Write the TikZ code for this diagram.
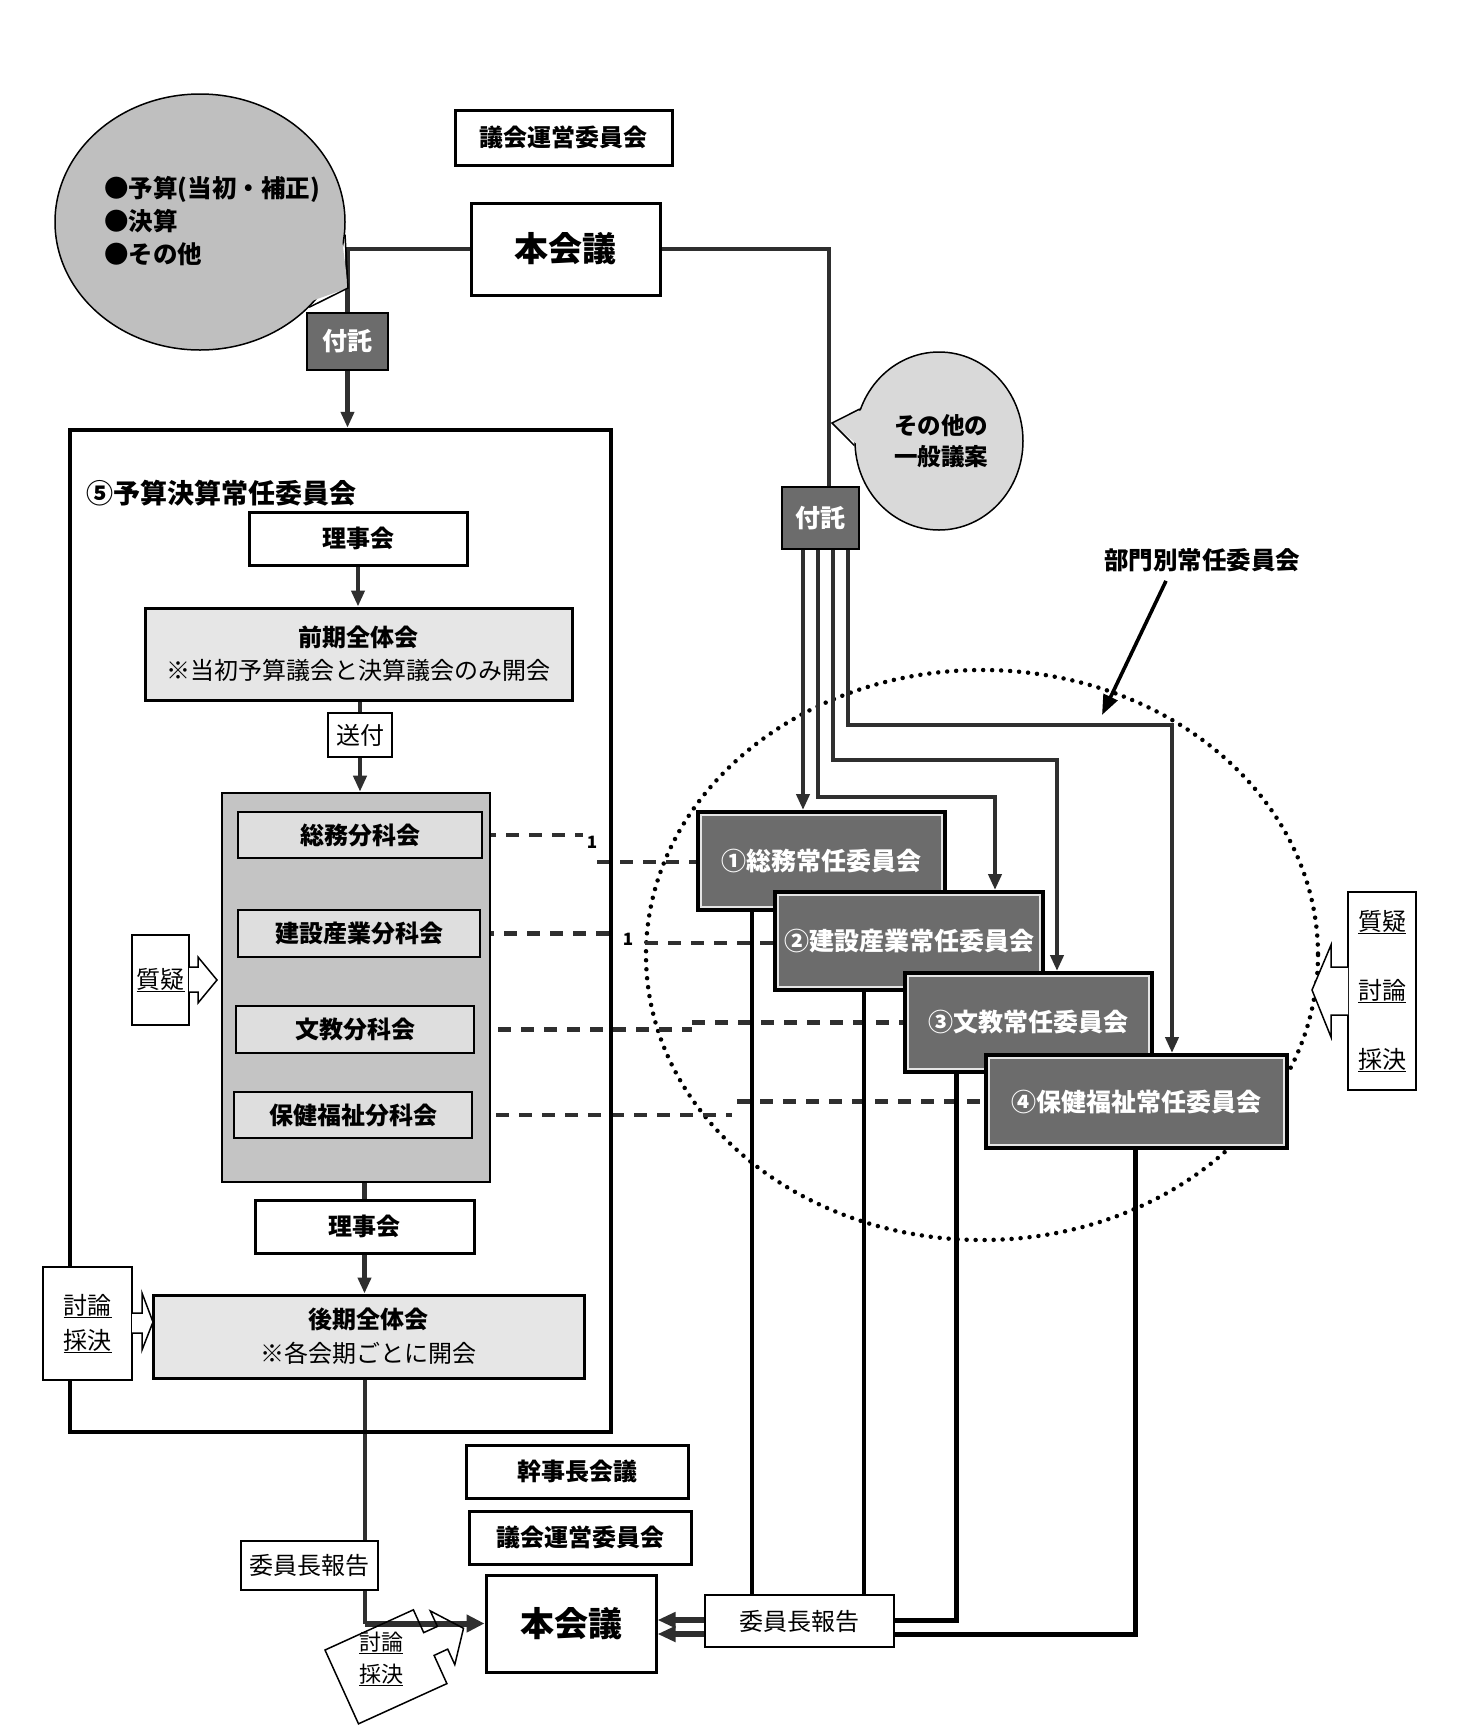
\documentclass[tikz,border=0pt]{standalone}
\usepackage{fontspec}
\setmainfont{Noto Sans CJK JP}
\usetikzlibrary{arrows.meta,shapes.geometric,calc}
\definecolor{ln}{HTML}{2F2F2F}
\definecolor{dk}{HTML}{6C6C6C}
\definecolor{pn}{HTML}{C4C4C4}
\definecolor{lt}{HTML}{DEDEDE}
\definecolor{ltt}{HTML}{E6E6E6}
\definecolor{bub}{HTML}{BFBFBF}
\definecolor{bubb}{HTML}{D9D9D9}
\pgfdeclarelayer{back}
\pgfsetlayers{back,main}
\newcommand{\bx}[7]{\node[#6, minimum width={(#4)-(#2)}, minimum height={(#5)-(#3)}] (#1) at ({((#2)+(#4))/2},{((#3)+(#5))/2}) {#7};}
\newcommand{\inrim}[1]{\draw[draw=white!80!gray,line width=1.2pt] ([shift={(5pt,-5pt)}]#1.north west) rectangle ([shift={(-5pt,5pt)}]#1.south east);}
\begin{document}
\begin{tikzpicture}[x=1pt,y=-1pt,
  bxs/.style={draw=black,line width=3pt,fill=white,inner sep=0pt,align=center,font=\fontsize{24}{33}\selectfont\bfseries},
  lbx/.style={bxs,fill=ltt},
  pnlbx/.style={draw=black,line width=2.6pt,fill=pn,inner sep=0pt},
  sbx/.style={bxs,fill=lt,line width=2pt},
  bigbx/.style={draw=black,line width=4.5pt,inner sep=0pt},
  ftk/.style={draw=black,line width=2pt,fill=dk,text=white,inner sep=0pt,font=\fontsize{25}{30}\selectfont\bfseries},
  cmbx/.style={draw=black,line width=4pt,fill=dk,text=white,inner sep=0pt,font=\fontsize{25}{30}\selectfont\bfseries},
  thinbx/.style={draw=black,line width=1.5pt,fill=white,inner sep=0pt,align=center,font=\fontsize{24}{35}\selectfont},
  rpb/.style={draw=black,line width=2.2pt,fill=white,inner sep=0pt,font=\fontsize{24}{30}\selectfont},
  cn/.style={draw=ln,line width=4.5pt},
  rt/.style={draw=black,line width=4pt},
  dsh/.style={draw=ln,line width=4.5pt,dash pattern=on 13pt off 10pt},
  arrtip/.style={-{Triangle[length=16pt,width=13pt]}},
  fatarr/.style={draw=ln,line width=6pt,-{Triangle[length=18pt,width=17pt]}},
]
\useasboundingbox (0,0) rectangle (1479,1730);

% ---------- bubbles ----------
\node[ellipse,draw=black,line width=1.5pt,fill=bub,minimum width=290,minimum height=256,inner sep=0pt] (bub1) at (200,222) {};
\coordinate (bub1tip) at (348,288);
\fill[bub] ([shift={(-4pt,4pt)}]bub1.-5) -- (bub1tip) -- ([shift={(-4pt,4pt)}]bub1.-38) -- cycle;
\draw[line width=1.5pt] (bub1.-5) -- (bub1tip) -- (bub1.-38);
\node[anchor=west,align=left,inner sep=0pt,font=\fontsize{24.5}{33}\selectfont\bfseries] (bubt) at (104,221) {●予算(当初・補正)\\●決算\\●その他};

\node[ellipse,draw=black,line width=1.5pt,fill=bubb,minimum width=168,minimum height=178,inner sep=0pt] (sono) at (939,441) {};
\coordinate (sonotip) at (832,423);
\fill[bubb] ([xshift=4pt]sono.158) -- (sonotip) -- ([xshift=4pt]sono.183) -- cycle;
\draw[line width=1.5pt] (sono.158) -- (sonotip) -- (sono.183);
\node[align=center,inner sep=0pt,font=\fontsize{23.5}{31}\selectfont\bfseries] (sonot) at (941,441) {その他の\\一般議案};

% ---------- boxes ----------
\bx{gu1}{455}{110}{672}{165}{bxs}{議会運営委員会}
\bx{hon1}{471}{203}{660}{295}{bxs,font=\fontsize{34}{40}\selectfont\bfseries}{本会議}
\bx{ft1}{307}{313}{388}{370}{ftk}{付託}
\bx{ft2}{782}{487}{859}{549}{ftk}{付託}

\bx{yk}{70}{430}{611}{1432}{bigbx}{}
\node[anchor=west,inner sep=0pt,font=\fontsize{27}{30}\selectfont\bfseries] (ttl) at (86,493) {⑤予算決算常任委員会};
\bx{rj1}{249}{512}{467}{565}{bxs}{理事会}
\bx{zk}{145}{608}{572}{700}{lbx}{前期全体会\\{\mdseries ※当初予算議会と決算議会のみ開会}}
\bx{sf}{328}{713}{392}{757}{bxs,line width=1.8pt,font=\fontsize{24}{30}\selectfont}{送付}
\bx{pnl}{222}{793}{490}{1182}{pnlbx}{}
\bx{bk1}{238}{812}{482}{858}{sbx}{総務分科会}
\bx{bk2}{238}{910}{480}{957}{sbx}{建設産業分科会}
\bx{bk3}{236}{1006}{474}{1053}{sbx}{文教分科会}
\bx{bk4}{234}{1092}{472}{1138}{sbx}{保健福祉分科会}
\bx{rj2}{255}{1200}{474}{1253}{bxs}{理事会}
\bx{kk}{153}{1295}{584}{1378}{lbx,font=\fontsize{24}{34}\selectfont\bfseries}{後期全体会\\{\mdseries ※各会期ごとに開会}}
\bx{tr1}{43}{1267}{132}{1380}{thinbx}{\underline{討論}\\\underline{採決}}
\bx{sg1}{132}{935}{189}{1025}{thinbx}{\underline{質疑}}

\bx{c1}{698}{812}{945}{910}{cmbx}{①総務常任委員会}
\inrim{c1}
\bx{c2}{775}{892}{1043}{990}{cmbx}{②建設産業常任委員会}
\inrim{c2}
\bx{c3}{905}{973}{1152}{1072}{cmbx}{③文教常任委員会}
\inrim{c3}
\bx{c4}{986}{1055}{1287}{1148}{cmbx}{④保健福祉常任委員会}
\inrim{c4}
\bx{sgt}{1348}{892}{1416}{1090}{thinbx,font=\fontsize{24}{69}\selectfont}{\underline{質疑}\\\underline{討論}\\\underline{採決}}

\node[inner sep=0pt,font=\fontsize{24.5}{30}\selectfont\bfseries] (bmb) at (1202,560) {部門別常任委員会};
\coordinate (bmbtip) at (1102,715);

\bx{kj}{466}{1445}{688}{1498}{bxs}{幹事長会議}
\bx{gu2}{469}{1511}{691}{1564}{bxs}{議会運営委員会}
\bx{hon2}{486}{1575}{656}{1672}{bxs,font=\fontsize{34}{40}\selectfont\bfseries}{本会議}
\bx{rp1}{241}{1541}{378}{1590}{rpb}{委員長報告}
\bx{rp2}{705}{1595}{894}{1647}{rpb}{委員長報告}

\node[inner sep=0pt,font=\fontsize{17}{17}\selectfont\bfseries] (one1) at (592,842) {1};
\node[inner sep=0pt,font=\fontsize{17}{17}\selectfont\bfseries] (one2) at (628,939) {1};

% block arrows
\draw[line width=1.5pt,fill=white] (132,1313) -- (142,1313) -- (142,1293) -- (153,1322) -- (142,1350) -- (142,1333) -- (132,1333);
\draw[line width=1.5pt,fill=white] (189,967) -- (198,967) -- (198,957) -- (217,980) -- (198,1003) -- (198,992) -- (189,992);
\draw[line width=1.5pt,fill=white] (1348,967) -- (1331,967) -- (1331,945) -- (1312,990) -- (1331,1037) -- (1331,1015) -- (1348,1015);
% tilted discussion box
\draw[line width=1.5pt] (325,1650) -- (413.4,1609.8) -- (423.7,1632.6) -- (437.4,1626.4) -- (430.3,1610.9) -- (463.5,1628.3) -- (454.8,1664.6) -- (447.7,1649.1) -- (434.1,1655.4) -- (446.9,1683.6) -- (358.5,1723.8) -- cycle;
\node[align=center,inner sep=0pt,font=\fontsize{22}{32}\selectfont] (tr2) at (381,1659) {\underline{討論}\\\underline{採決}};

% ---------- connectors (behind) ----------
\begin{pgfonlayer}{back}
\fill[white] (0,0) rectangle (1479,1730);
\draw[line width=4.5pt,dash pattern=on 0pt off 9pt,line cap=round] (982,955) ellipse [x radius=336,y radius=285];

\draw[cn] (hon1.west) -| (ft1.north);
\draw[cn,arrtip] (ft1.south) -- (ft1.south |- yk.north);
\coordinate (k2) at (829,249);
\draw[cn] (hon1.east) -- (k2) -- (k2 |- ft2.north);

\coordinate (f1) at (803,0);
\coordinate (f2) at (818,0);
\coordinate (f3) at (833,0);
\coordinate (f4) at (848,0);
\coordinate (g2) at (995,797);
\coordinate (g3) at (1057,760);
\coordinate (g4) at (1172,725);
\draw[cn,arrtip] (f1 |- ft2.south) -- (f1 |- c1.north);
\draw[cn,arrtip] (f2 |- ft2.south) |- (g2) -- (g2 |- c2.north);
\draw[cn,arrtip] (f3 |- ft2.south) |- (g3) -- (g3 |- c3.north);
\draw[cn,arrtip] (f4 |- ft2.south) |- (g4) -- (g4 |- c4.north);

\draw[cn,arrtip] (rj1.south) -- (rj1.south |- zk.north);
\draw[cn] (sf.north |- zk.south) -- (sf.north);
\draw[cn,arrtip] (sf.south) -- (sf.south |- pnl.north);
\draw[cn] (rj2.north |- pnl.south) -- (rj2.north);
\draw[cn,arrtip] (rj2.south) -- (rj2.south |- kk.north);

\coordinate (v1) at (365,0);
\coordinate (v1b) at (365,1623.5);
\draw[cn] (v1 |- kk.south) -- (v1 |- rp1.north);
\draw[cn] (v1 |- rp1.south) -- (v1b);
\draw[fatarr] (v1b) -- (hon2.west);

\coordinate (d1a) at (583,835);
\coordinate (d1b) at (597,862);
\coordinate (d2a) at (610,933.5);
\coordinate (d2b) at (645,943);
\coordinate (d3a) at (692,1029.5);
\coordinate (d3b) at (692,1022.5);
\coordinate (d4a) at (732,1115);
\coordinate (d4b) at (737,1101.5);
\draw[dsh] (bk1.east) -- (d1a);
\draw[dsh] (d1b) -- (d1b -| c1.west);
\draw[dsh] (bk2.east) -- (d2a);
\draw[dsh] (d2b) -- (d2b -| c2.west);
\draw[dsh] (bk3.east) -- (d3a);
\draw[dsh] (d3b) -- (c3.west);
\draw[dsh] (bk4.east) -- (d4a);
\draw[dsh] (d4b) -- (c4.west);

\coordinate (r1) at (752,0);
\coordinate (r2) at (864,0);
\coordinate (r3) at (956,1620);
\coordinate (r4) at (1135,1634);
\draw[rt] (r1 |- c1.south) -- (r1 |- rp2.north);
\draw[rt] (r2 |- c2.south) -- (r2 |- rp2.north);
\draw[rt,line width=5pt] (r3 |- c3.south) -- (r3) -- (r3 -| rp2.east);
\draw[rt,line width=5pt] (r4 |- c4.south) -- (r4) -- (r4 -| rp2.east);
\draw[fatarr,-{Triangle[length=18pt,width=15pt]}] (r3 -| rp2.west) -- (r3 -| hon2.east);
\draw[fatarr,-{Triangle[length=18pt,width=15pt]}] (r4 -| rp2.west) -- (r4 -| hon2.east);

\draw[line width=3.6pt,-{Triangle[length=20pt,width=15pt]}] ([xshift=-36pt,yshift=-9pt]bmb.south) -- (bmbtip);
\end{pgfonlayer}
\end{tikzpicture}
\end{document}
